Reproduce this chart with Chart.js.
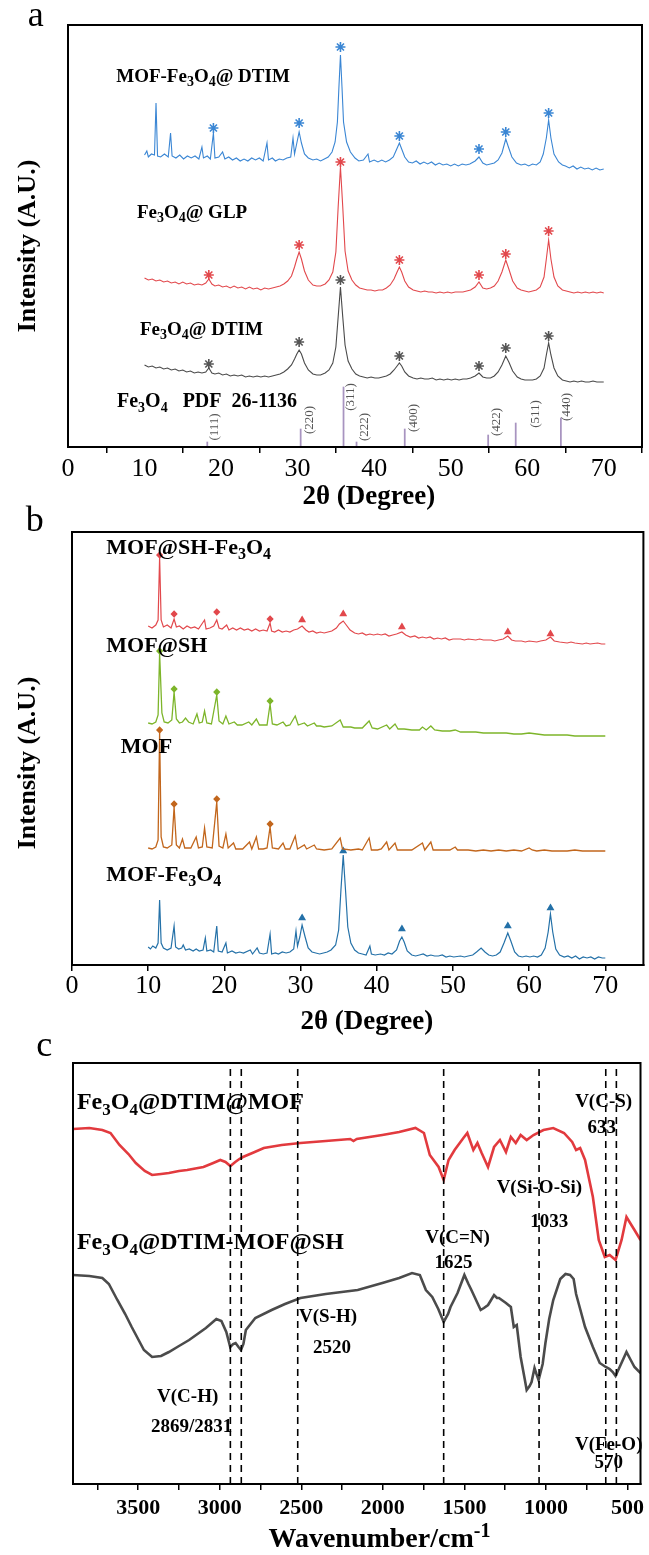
<!DOCTYPE html>
<html>
<head>
<meta charset="utf-8">
<script src="https://cdn.jsdelivr.net/npm/chart.js@4.4.0/dist/chart.umd.min.js"></script>
<style>
  html, body { margin: 0; padding: 0; background: #fff; }
  body { width: 649px; height: 1555px; position: relative; overflow: hidden; }
  canvas { position: absolute; left: 0; }
</style>
</head>
<body>
<canvas id="chartA" width="649" height="520" style="top:0px"></canvas>
<canvas id="chartB" width="649" height="540" style="top:500px"></canvas>
<canvas id="chartC" width="649" height="525" style="top:1030px"></canvas>
<script>
// ---------- panel a : XRD, 2theta vs intensity (offset traces, arbitrary units) ----------
const aTicks = [0, 10, 20, 30, 40, 50, 60, 70];

const aMofFe3o4Dtim = [[10,292],[10.3,296],[10.5,290],[10.9,293],[11.3,292],[11.5,344],[11.7,291],[12.1,290],[12.6,293],[13.1,290],[13.4,314],[13.6,291],[14.1,289],[14.6,292],[15.1,288],[15.6,291],[16.1,289],[16.6,291],[17.1,288],[17.5,300],[17.7,289],[18.2,291],[18.6,288],[19.0,314],[19.2,289],[19.7,290],[20.2,295],[20.5,288],[21,290],[21.5,287],[22,289],[22.5,286],[23,288],[23.5,286],[24,289],[24.5,287],[25,289],[25.5,286],[26.0,304],[26.2,287],[26.7,289],[27.1,286],[27.6,288],[28.1,287],[28.6,289],[29.1,290],[29.4,309],[29.6,293],[29.9,304],[30.2,315],[30.5,304],[30.9,293],[31.4,289],[32,287],[32.5,288],[33,286],[33.5,288],[34,290],[34.5,295],[34.9,305],[35.2,325],[35.4,360],[35.6,392],[35.8,360],[36.0,325],[36.4,305],[36.9,295],[37.5,289],[38,286],[38.6,287],[39.2,293],[39.4,285],[40,287],[40.5,285],[41,287],[41.5,285],[42,287],[42.5,290],[42.9,297],[43.3,304],[43.6,298],[44,290],[44.5,285],[45,284],[45.5,286],[46,283],[46.5,285],[47,283],[47.5,285],[48,282],[48.5,284],[49,282],[49.5,283],[50,281],[50.5,283],[51,281],[51.5,283],[52,282],[52.5,283],[53.2,286],[53.7,290],[54.2,284],[54.7,282],[55.2,283],[55.7,284],[56.2,287],[56.7,294],[57.2,308],[57.5,301],[58,290],[58.6,284],[59.2,282],[59.7,283],[60.2,281],[60.7,283],[61.2,282],[61.7,285],[62.1,293],[62.5,309],[62.8,327],[63.1,309],[63.5,293],[64.1,285],[64.6,282],[65,281],[65.5,279],[66,281],[66.5,278],[67,280],[67.5,278],[68,279],[68.5,277],[69,279],[69.5,277],[70,278]];

const aFe3o4Glp = [[10,169],[10.5,167],[11,168],[11.5,166],[12,167],[12.5,165],[13,166],[13.5,164],[14,165],[14.5,163],[15,165],[15.5,163],[16,164],[16.5,162],[17,163],[17.5,162],[18,164],[18.4,168],[18.8,163],[19.2,161],[19.7,162],[20.2,160],[20.7,161],[21.2,159],[21.7,161],[22.2,159],[22.7,160],[23.2,158],[23.7,160],[24.2,158],[24.7,159],[25.2,157],[25.7,159],[26.2,158],[26.7,159],[27.2,160],[27.7,161],[28.2,163],[28.7,166],[29.2,171],[29.6,180],[29.9,188],[30.2,195],[30.5,188],[30.9,176],[31.4,167],[32,162],[32.5,161],[33,161],[33.6,163],[34.1,167],[34.6,175],[35.0,195],[35.3,240],[35.6,280],[35.9,240],[36.2,196],[36.6,176],[37.1,167],[37.6,162],[38.1,159],[38.6,158],[39.1,157],[39.6,157],[40.1,156],[40.6,157],[41.1,157],[41.6,159],[42.1,162],[42.6,168],[43.0,175],[43.3,180],[43.6,175],[44.0,166],[44.5,160],[45.1,157],[45.6,156],[46.1,155],[46.6,156],[47.1,155],[47.6,155],[48.1,154],[48.6,155],[49.1,154],[49.6,155],[50.1,154],[50.6,155],[51.1,155],[51.6,155],[52.1,156],[52.6,157],[53.2,160],[53.7,165],[54.2,159],[54.7,158],[55.2,159],[55.7,161],[56.2,166],[56.7,175],[57.2,187],[57.6,178],[58.1,166],[58.7,159],[59.2,157],[59.7,156],[60.2,155],[60.7,156],[61.2,157],[61.7,160],[62.2,170],[62.5,188],[62.8,207],[63.1,188],[63.5,170],[64,161],[64.6,157],[65.1,156],[65.6,155],[66.1,154],[66.6,155],[67.1,154],[67.6,155],[68.1,154],[68.6,155],[69.1,154],[69.6,155],[70,154]];

const aFe3o4Dtim = [[10,82],[10.5,80],[11,81],[11.5,79],[12,80],[12.5,78],[13,79],[13.5,77],[14,78],[14.5,76],[15,77],[15.5,75],[16,76],[16.5,74],[17,75],[17.5,74],[18,75],[18.4,79],[18.8,74],[19.2,73],[19.7,74],[20.2,72],[20.7,73],[21.2,71],[21.7,72],[22.2,71],[22.7,72],[23.2,70],[23.7,71],[24.2,70],[24.7,71],[25.2,70],[25.7,71],[26.2,70],[26.7,71],[27.2,72],[27.7,73],[28.2,75],[28.7,78],[29.2,82],[29.6,88],[29.9,93],[30.2,97],[30.5,93],[30.9,84],[31.4,77],[32,73],[32.5,72],[33,72],[33.6,74],[34.1,77],[34.6,84],[35.0,100],[35.3,130],[35.6,160],[35.9,130],[36.2,102],[36.6,86],[37.1,78],[37.6,73],[38.1,71],[38.6,70],[39.1,69],[39.6,70],[40.1,69],[40.6,69],[41.1,70],[41.6,71],[42.1,73],[42.6,77],[43.0,81],[43.3,84],[43.6,81],[44.0,75],[44.5,71],[45.1,69],[45.6,68],[46.1,69],[46.6,68],[47.1,68],[47.6,69],[48.1,67],[48.6,68],[49.1,67],[49.6,68],[50.1,67],[50.6,68],[51.1,67],[51.6,68],[52.1,68],[52.6,69],[53.2,71],[53.7,74],[54.2,70],[54.7,69],[55.2,69],[55.7,71],[56.2,75],[56.7,82],[57.2,91],[57.6,85],[58.1,76],[58.7,70],[59.2,68],[59.7,67],[60.2,67],[60.7,67],[61.2,68],[61.7,71],[62.2,79],[62.5,92],[62.8,104],[63.1,92],[63.5,79],[64,71],[64.6,67],[65.1,66],[65.6,65],[66.1,66],[66.6,65],[67.1,66],[67.6,65],[68.1,65],[68.6,66],[69.1,65],[69.6,65],[70,65]];

// asterisks over the Fe3O4 reflections
const aStarsBlue = [[19.0,319],[30.2,324],[35.6,400],[43.3,311],[53.7,298],[57.2,315],[62.8,334]];
const aStarsRed  = [[18.4,172],[30.2,202],[35.6,285],[43.3,187],[53.7,172],[57.2,193],[62.8,216]];
const aStarsGrey = [[18.4,83],[30.2,105],[35.6,167],[43.3,91],[53.7,81],[57.2,99],[62.8,111]];

// reference pattern PDF 26-1136 (sticks as they sit in the figure)
const pdfHkl = ['(111)', '(220)', '(311)', '(222)', '(400)', '(422)', '(511)', '(440)'];
const pdfPos = [18.2, 30.4, 36.0, 37.7, 44.0, 54.9, 58.5, 64.4];
const pdfInt = [5, 18, 60, 5, 18, 12, 24, 29];

// ---------- panel b : XRD of the MOF series ----------
const bTicks = [0, 10, 20, 30, 40, 50, 60, 70];

const bMofShFe3o4 = [[10,339],[10.5,337],[11,340],[11.3,345],[11.5,408],[11.7,345],[12,338],[12.5,340],[13,337],[13.4,346],[13.7,338],[14.1,339],[14.6,336],[15.1,339],[15.6,337],[16.1,338],[16.6,336],[17.4,345],[17.6,336],[18.1,337],[18.6,339],[19.0,345],[19.3,337],[19.7,336],[20.3,340],[20.6,335],[21.1,337],[21.6,335],[22.1,337],[22.6,335],[23.1,336],[23.6,334],[24.1,336],[24.6,334],[25.1,335],[25.6,334],[26.0,342],[26.2,334],[26.6,333],[27.1,335],[27.6,333],[28.1,334],[28.6,333],[29.1,335],[29.6,336],[30.2,339],[30.7,335],[31.1,333],[31.6,334],[32.1,332],[32.6,333],[33.1,332],[33.6,333],[34.1,334],[34.7,337],[35.1,341],[35.6,344],[36.0,340],[36.5,335],[37.1,332],[37.6,331],[38.1,332],[38.6,330],[39.1,331],[39.6,330],[40.1,331],[40.6,330],[41.1,331],[41.6,329],[42.1,330],[42.6,331],[43.3,333],[43.8,330],[44.4,328],[45,329],[45.5,327],[46,328],[46.5,327],[47,328],[47.5,326],[48,327],[48.5,326],[49,327],[49.5,325],[50,326],[51,326],[51.5,325],[52,326],[53,325],[53.5,326],[54,325],[55,325],[55.5,324],[56,325],[56.6,326],[57.2,329],[57.7,325],[58.2,324],[59,324],[59.5,323],[60,324],[61,323],[61.5,324],[62.2,325],[62.8,328],[63.3,324],[64,323],[65,322],[65.5,323],[66,322],[67,321],[67.5,322],[68,321],[69,322],[69.5,321],[70,321]];

const bMofSh = [[10,242],[10.5,241],[11,243],[11.3,250],[11.5,312],[11.8,252],[12.1,243],[12.6,242],[13.1,245],[13.4,273],[13.7,246],[14.1,242],[14.5,243],[14.9,247],[15.3,243],[15.9,241],[16.4,251],[16.7,242],[17.1,243],[17.4,254],[17.7,242],[18.3,241],[19.0,270],[19.3,244],[19.8,241],[20.2,249],[20.6,241],[21.3,243],[21.7,240],[22.3,240],[23.2,243],[23.6,240],[24.2,246],[24.6,240],[25.1,240],[25.6,240],[26.0,261],[26.3,241],[26.9,240],[27.7,243],[28.1,239],[28.6,240],[29.3,249],[29.7,240],[30.5,242],[30.9,239],[31.8,242],[32.1,239],[32.6,239],[33.1,238],[34.1,239],[35.2,245],[35.6,238],[36.6,238],[37.1,237],[38.1,237],[39.0,244],[39.4,237],[40.1,236],[41.3,240],[41.7,236],[42.4,241],[42.8,236],[43.6,236],[44.6,235],[45.6,235],[46.0,238],[46.5,235],[47.1,239],[47.6,235],[48.6,234],[49.6,234],[50.3,235],[51,233],[52,233],[53,233],[54,232],[55,232],[56,232],[57,232],[58,231],[59,231],[60,232],[61,231],[62,230],[63,230],[64,230],[65,230],[66,229],[67,229],[68,229],[69,229],[70,229]];

const bMof = [[10,117],[10.5,116],[11,118],[11.3,125],[11.5,233],[11.7,128],[12,118],[12.5,117],[13.1,120],[13.4,158],[13.7,120],[14.1,117],[14.5,126],[14.8,117],[15.6,117],[16.3,128],[16.6,117],[17.1,118],[17.4,137],[17.7,118],[18.4,117],[19.0,163],[19.3,119],[19.8,117],[20.2,131],[20.5,117],[21.2,122],[21.5,116],[22.4,116],[23.3,123],[23.6,116],[24.2,128],[24.5,116],[25.1,116],[25.6,117],[26.0,138],[26.3,117],[27.1,116],[27.7,122],[28,116],[28.6,116],[29.3,129],[29.6,116],[30.5,120],[30.8,116],[31.8,120],[32.1,116],[33.1,115],[34.1,116],[35.2,127],[35.5,116],[36.6,115],[37.6,116],[38.1,115],[39.0,127],[39.3,115],[40.1,115],[40.6,116],[41.3,123],[41.6,115],[42.4,122],[42.7,115],[43.6,115],[44.6,115],[46.0,122],[46.3,115],[47.1,123],[47.4,115],[48.6,115],[49.6,115],[50.3,118],[50.6,115],[52,115],[53,114],[54,115],[55,114],[56,115],[57,114],[58,115],[59,114],[60,117],[60.4,115],[61,114],[62,115],[63,114],[64,114],[65,114],[66,115],[67,114],[68,114],[69,114],[70,114]];

const bMofFe3o4 = [[10,18],[10.3,16],[10.6,19],[11,17],[11.3,22],[11.5,65],[11.7,22],[12,17],[12.5,15],[13,17],[13.4,39],[13.6,18],[14,16],[14.4,17],[14.6,20],[14.9,15],[15.4,16],[15.9,14],[16.3,16],[16.7,14],[17.2,15],[17.5,27],[17.7,14],[18.2,15],[18.6,13],[19.0,39],[19.2,14],[19.7,13],[20.2,22],[20.4,12],[21,14],[21.5,12],[22,13],[22.5,12],[23.4,15],[23.7,11],[24.3,17],[24.6,12],[25.1,11],[25.6,12],[26.0,31],[26.2,11],[26.7,12],[27.1,11],[27.6,13],[28.1,12],[28.6,13],[29.1,16],[29.4,34],[29.6,19],[29.9,28],[30.2,40],[30.6,28],[31,17],[31.5,13],[32,12],[32.5,11],[33,12],[33.5,13],[34,15],[34.6,20],[35.0,35],[35.3,75],[35.6,110],[35.9,75],[36.2,38],[36.6,22],[37.1,15],[37.6,12],[38.1,11],[38.6,10],[39.1,19],[39.3,11],[39.8,10],[40.5,11],[41,10],[41.5,12],[42,11],[42.6,15],[43.0,24],[43.3,28],[43.6,23],[44,14],[44.6,10],[45.1,9],[45.6,10],[46.1,11],[46.6,9],[47.1,10],[47.6,9],[48.1,9],[48.6,10],[49.1,8],[49.6,9],[50.1,8],[51,9],[51.5,8],[52,9],[52.6,10],[53.1,13],[53.7,17],[54.2,13],[54.7,10],[55.2,9],[55.7,10],[56.2,13],[56.7,22],[57.2,32],[57.6,24],[58.1,13],[58.6,9],[59.1,8],[59.6,9],[60.1,8],[60.6,9],[61.1,8],[61.6,10],[62.1,17],[62.5,33],[62.8,51],[63.1,33],[63.5,16],[64,10],[64.6,8],[65.1,9],[65.6,7],[66.1,9],[66.6,6],[67.1,8],[67.6,7],[68.1,8],[68.6,6],[69.1,8],[69.6,7],[70,7]];

// peak markers: diamonds = MOF reflections, clubs = Fe3O4 reflections
const bDiamondsRed    = [[11.5,410],[13.4,351],[19.0,353],[26.0,346]];
const bClubsRed       = [[30.2,345],[35.6,351],[43.3,338],[57.2,333],[62.8,331]];
const bDiamondsGreen  = [[11.5,314],[13.4,276],[19.0,273],[26.0,264]];
const bDiamondsOrange = [[11.5,235],[13.4,161],[19.0,166],[26.0,141]];
const bClubsBlue      = [[30.2,47],[35.6,114],[43.3,36],[57.2,39],[62.8,57]];

// ---------- panel c : FTIR, wavenumber (cm-1) vs transmittance (offset) ----------
const cTicks = [3750, 3500, 3250, 3000, 2750, 2500, 2250, 2000, 1750, 1500, 1250, 1000, 750, 500];

const cFe3o4DtimMof = [[3900,355],[3800,356],[3720,354],[3670,351],[3615,339],[3560,330],[3515,321],[3460,313],[3415,309],[3360,310],[3312,311],[3250,313],[3200,314],[3100,317],[3040,321],[2997,324],[2965,322],[2935,318],[2905,322],[2880,325],[2858,327],[2800,331],[2730,336],[2620,339],[2505,341],[2350,343],[2200,345],[2180,343],[2160,345],[2003,349],[1900,352],[1800,356],[1748,351],[1712,329],[1658,317],[1627,304],[1597,324],[1560,334],[1506,346],[1482,351],[1445,334],[1420,341],[1394,331],[1355,317],[1318,337],[1282,344],[1245,332],[1215,347],[1185,341],[1155,349],[1118,344],[1076,349],[1015,354],[955,356],[889,351],[839,342],[815,334],[790,336],[760,324],[712,287],[676,244],[639,227],[609,229],[573,224],[536,244],[506,267],[457,254],[420,244]];

const cFe3o4DtimMofSh = [[3900,209],[3800,208],[3720,206],[3680,200],[3628,184],[3580,170],[3540,157],[3465,134],[3415,127],[3360,128],[3312,132],[3250,138],[3188,144],[3085,156],[3021,165],[2990,163],[2960,152],[2936,137],[2918,140],[2903,141],[2885,137],[2870,134],[2855,140],[2840,154],[2782,166],[2682,174],[2600,180],[2505,186],[2350,190],[2154,194],[2003,201],[1900,206],[1821,211],[1773,209],[1736,194],[1697,187],[1660,175],[1627,162],[1600,170],[1585,177],[1542,191],[1500,209],[1475,200],[1457,194],[1420,181],[1400,174],[1380,176],[1355,179],[1318,189],[1300,186],[1288,186],[1245,181],[1215,177],[1197,157],[1179,159],[1155,127],[1130,105],[1118,94],[1100,98],[1088,102],[1070,116],[1058,110],[1045,104],[1020,120],[1003,141],[980,165],[955,184],[912,205],[880,210],[852,209],[830,205],[815,190],[790,175],[760,157],[712,137],[670,121],[633,117],[609,115],[590,112],[573,108],[545,118],[506,132],[480,124],[457,117],[420,111]];

// marked band positions (dashed guide lines)
const cBands = [2935, 2868, 2522, 1627, 1042, 633, 568];

// ---------- drawing helpers ----------
const SERIF = '"Liberation Serif", "Times New Roman", serif';

function pts(arr) { return arr.map(p => ({ x: p[0], y: p[1] })); }

// "_{..}" = subscript, "^{..}" = superscript
function parseRich(text) {
  let parts = [], re = /([_^])\{([^}]*)\}/g, last = 0, m;
  while ((m = re.exec(text))) {
    if (m.index > last) parts.push({ t: text.slice(last, m.index), k: 0 });
    parts.push({ t: m[2], k: m[1] == '_' ? 1 : -1 });
    last = re.lastIndex;
  }
  if (last < text.length) parts.push({ t: text.slice(last), k: 0 });
  return parts;
}

function drawRich(ctx, it, px, py) {
  const parts = parseRich(it.text);
  const size = it.size, weight = it.bold ? 'bold ' : '';
  const fontFor = k => weight + (k ? Math.round(size * 0.72) : size) + 'px ' + SERIF;
  let w = 0;
  parts.forEach(p => { ctx.font = fontFor(p.k); p.w = ctx.measureText(p.t).width; w += p.w; });
  ctx.save();
  ctx.translate(px, py);
  if (it.rotate) ctx.rotate(-Math.PI / 2);
  let x = it.align == 'left' ? 0 : -w / 2;
  ctx.fillStyle = it.color || '#000';
  ctx.textBaseline = 'middle';
  ctx.textAlign = 'left';
  parts.forEach(p => {
    ctx.font = fontFor(p.k);
    ctx.fillText(p.t, x, p.k * size * 0.3);
    x += p.w;
  });
  ctx.restore();
}

// frame round the plot area + all texts, placed in data units
function textPlugin(items, frameWidth) {
  return {
    id: 'texts',
    afterDraw(chart) {
      const ctx = chart.ctx, a = chart.chartArea;
      ctx.save();
      ctx.strokeStyle = '#000';
      ctx.lineWidth = frameWidth;
      ctx.strokeRect(a.left, a.top, a.right - a.left, a.bottom - a.top);
      ctx.restore();
      items.forEach(it => drawRich(ctx, it,
        chart.scales.x.getPixelForValue(it.x), chart.scales.y.getPixelForValue(it.y)));
    }
  };
}

function xAxis(min, max, ticks, o) {
  return {
    type: 'linear', min: min, max: max, reverse: !!o.reverse, offset: false,
    afterBuildTicks: s => { s.ticks = ticks.map(v => ({ value: v })); },
    afterFit: s => { s.height = o.height; },
    grid: { display: true, drawOnChartArea: false, drawTicks: true, tickLength: 6, color: '#000', lineWidth: 1.5 },
    border: { display: true, color: '#000', width: 2 },
    ticks: {
      color: '#000', padding: o.pad, autoSkip: false, maxRotation: 0,
      font: { family: SERIF, size: o.size, weight: o.weight },
      callback: o.cb || (v => v)
    }
  };
}

function trace(data, color, width) {
  return { type: 'line', data: pts(data), borderColor: color, borderWidth: width, pointRadius: 0, fill: false, tension: 0 };
}

function marks(data, color, style, r) {
  return { type: 'line', data: pts(data), showLine: false, pointStyle: style, pointRadius: r,
           pointBorderColor: color, pointBackgroundColor: color, pointBorderWidth: 1.6 };
}

function baseOptions(pad, xs, ymax) {
  return {
    responsive: false, animation: false, events: [],
    layout: { padding: pad },
    plugins: { legend: { display: false }, tooltip: { enabled: false } },
    scales: { x: xs, y: { type: 'linear', min: 0, max: ymax, display: false } }
  };
}

// ---------- panel a ----------
const hklLabelX = [19.2, 31.5, 36.9, 38.8, 45.1, 56.0, 61.1, 65.2];
const hklLabelY = [20, 27, 50, 20, 29, 25, 33, 40];

let aItems = [
  { text: 'a', x: -4.2, y: 430, size: 36 },
  { text: 'Intensity (A.U.)', x: -5.2, y: 201, size: 26, bold: true, rotate: true },
  { text: '2θ (Degree)', x: 39.3, y: -50, size: 27, bold: true },
  { text: 'MOF-Fe_{3}O_{4}@ DTIM', x: 6.3, y: 370, size: 19, bold: true, align: 'left' },
  { text: 'Fe_{3}O_{4}@ GLP', x: 9.0, y: 234, size: 19, bold: true, align: 'left' },
  { text: 'Fe_{3}O_{4}@ DTIM', x: 9.4, y: 117, size: 19, bold: true, align: 'left' },
  { text: 'Fe_{3}O_{4}   PDF  26-1136', x: 6.4, y: 45, size: 20, bold: true, align: 'left' }
];
pdfHkl.forEach((h, i) => aItems.push({ text: h, x: hklLabelX[i], y: hklLabelY[i], size: 13, color: '#555', rotate: true }));

new Chart(document.getElementById('chartA'), {
  type: 'line',
  data: {
    datasets: [
      { type: 'bar', data: pdfPos.map((p, i) => ({ x: p, y: pdfInt[i] })), backgroundColor: '#a894c0', barThickness: 1.1, grouped: false },
      trace(aMofFe3o4Dtim, '#3a86d4', 1.1),
      trace(aFe3o4Glp, '#e2484c', 1.1),
      trace(aFe3o4Dtim, '#4a4a4a', 1.1),
      marks(aStarsBlue, '#3a86d4', 'star', 5),
      marks(aStarsRed, '#e2484c', 'star', 5),
      marks(aStarsGrey, '#555555', 'star', 5)
    ]
  },
  options: baseOptions({ left: 68, right: 7, top: 25, bottom: 0 },
    xAxis(0, 75, aTicks, { height: 73, size: 26, weight: 'normal', pad: 1 }), 422),
  plugins: [textPlugin(aItems, 2)]
});

// ---------- panel b ----------
const bItems = [
  { text: 'b', x: -4.9, y: 443, size: 36 },
  { text: 'Intensity (A.U.)', x: -5.7, y: 202, size: 26, bold: true, rotate: true },
  { text: '2θ (Degree)', x: 38.7, y: -57, size: 27, bold: true },
  { text: 'MOF@SH-Fe_{3}O_{4}', x: 4.5, y: 417, size: 22, bold: true, align: 'left' },
  { text: 'MOF@SH', x: 4.5, y: 319, size: 22, bold: true, align: 'left' },
  { text: 'MOF', x: 6.4, y: 218, size: 22, bold: true, align: 'left' },
  { text: 'MOF-Fe_{3}O_{4}', x: 4.5, y: 90, size: 22, bold: true, align: 'left' }
];

new Chart(document.getElementById('chartB'), {
  type: 'line',
  data: {
    datasets: [
      trace(bMofShFe3o4, '#e2484c', 1.2),
      trace(bMofSh, '#7db52a', 1.3),
      trace(bMof, '#c2661c', 1.3),
      trace(bMofFe3o4, '#2471a8', 1.2),
      marks(bDiamondsRed, '#e2484c', 'rectRot', 2.5),
      marks(bClubsRed, '#e2484c', 'triangle', 3),
      marks(bDiamondsGreen, '#7db52a', 'rectRot', 2.5),
      marks(bDiamondsOrange, '#c2661c', 'rectRot', 2.5),
      marks(bClubsBlue, '#2471a8', 'triangle', 3)
    ]
  },
  options: baseOptions({ left: 72, right: 2, top: 32, bottom: 0 },
    xAxis(0, 75, bTicks, { height: 75, size: 26, weight: 'normal', pad: 0 }), 433),
  plugins: [textPlugin(bItems, 2)]
});

// ---------- panel c ----------
const cItems = [
  { text: 'c', x: 4076, y: 437, size: 36 },
  { text: 'Wavenumber/cm^{-1}', x: 2021, y: -56, size: 28, bold: true },
  { text: 'Fe_{3}O_{4}@DTIM@MOF', x: 3876, y: 381, size: 24, bold: true, align: 'left' },
  { text: 'Fe_{3}O_{4}@DTIM-MOF@SH', x: 3876, y: 241, size: 24, bold: true, align: 'left' },
  { text: 'V(C-S)', x: 646, y: 382, size: 19, bold: true },
  { text: '633', x: 658, y: 356, size: 19, bold: true },
  { text: 'V(Si-O-Si)', x: 1040, y: 296, size: 19, bold: true },
  { text: '1033', x: 979, y: 262, size: 19, bold: true },
  { text: 'V(C=N)', x: 1542, y: 246, size: 19, bold: true },
  { text: '1625', x: 1567, y: 221, size: 19, bold: true },
  { text: 'V(S-H)', x: 2336, y: 167, size: 19, bold: true },
  { text: '2520', x: 2312, y: 136, size: 19, bold: true },
  { text: 'V(C-H)', x: 3197, y: 87, size: 19, bold: true },
  { text: '2869/2831', x: 3173, y: 57, size: 19, bold: true },
  { text: 'V(Fe-O)', x: 615, y: 39, size: 19, bold: true },
  { text: '570', x: 615, y: 21, size: 19, bold: true }
];

const bandLines = cBands.map(w => ({
  type: 'line', data: [{ x: w, y: 0 }, { x: w, y: 421 }], borderColor: '#000',
  borderWidth: 1.6, borderDash: [7, 5], pointRadius: 0, fill: false
}));

new Chart(document.getElementById('chartC'), {
  type: 'line',
  data: {
    datasets: bandLines.concat([
      trace(cFe3o4DtimMof, '#e23a3e', 2.6),
      trace(cFe3o4DtimMofSh, '#4b4b4b', 2.6)
    ])
  },
  options: baseOptions({ left: 73, right: 2, top: 33, bottom: 0 },
    xAxis(420, 3900, cTicks, { height: 71, size: 22, weight: 'bold', pad: 5, reverse: true,
      cb: v => (v % 500 === 0 ? v : '') }), 421),
  plugins: [textPlugin(cItems, 2)]
});
</script>
</body>
</html>
